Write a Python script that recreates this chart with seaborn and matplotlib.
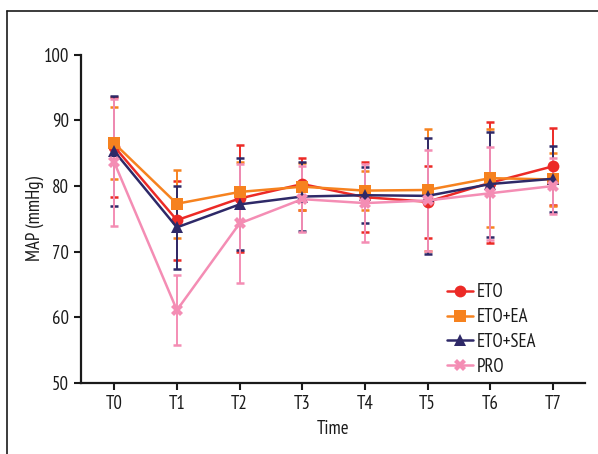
import matplotlib
matplotlib.use("Agg")
import matplotlib.pyplot as plt
import matplotlib.lines as mlines
import seaborn as sns
import numpy as np
import pandas as pd

times = ["T0", "T1", "T2", "T3", "T4", "T5", "T6", "T7"]
groups = ["ETO", "ETO+EA", "ETO+SEA", "PRO"]

eto_mean = [86.0, 74.8, 78.1, 80.3, 78.3, 77.6, 80.5, 83.0]
eto_sd = [7.6, 6.0, 8.2, 3.9, 5.3, 5.5, 9.2, 5.9]
ea_mean = [86.5, 77.3, 79.1, 79.9, 79.3, 79.4, 81.2, 81.0]
ea_sd = [5.5, 5.2, 4.5, 3.6, 3.0, 9.3, 7.5, 4.0]
sea_mean = [85.3, 73.7, 77.2, 78.4, 78.6, 78.5, 80.3, 81.1]
sea_sd = [8.4, 6.3, 7.0, 5.2, 4.3, 8.8, 8.0, 5.0]
pro_mean = [83.6, 61.1, 74.3, 78.0, 77.4, 77.8, 78.9, 80.0]
pro_sd = [9.7, 5.3, 9.0, 5.0, 5.9, 7.7, 7.1, 4.2]

means = [eto_mean, ea_mean, sea_mean, pro_mean]
sds = [eto_sd, ea_sd, sea_sd, pro_sd]
colors = ["#EC2A26", "#F6821F", "#2E2968", "#F48DB4"]
markers = ["o", "s", "^", "X"]

sns.set_theme(style="ticks")
plt.rcParams["font.family"] = ["PT Sans Narrow", "Fira Sans Condensed",
                               "Roboto Condensed", "Archivo Narrow",
                               "Open Sans Condensed", "DejaVu Sans"]

fig = plt.figure(figsize=(5.98, 4.54), dpi=100)
ax = fig.add_axes([0.1355, 0.1564, 0.8425, 0.7231])

pos = np.arange(len(times))
rows = []
for g, m in zip(groups, means):
    for p, v in zip(pos, m):
        rows.append({"pos": p, "MAP": v, "Group": g})
df = pd.DataFrame(rows)

for g, m, s, c in zip(groups, means, sds, colors):
    ax.errorbar(pos, m, yerr=s, fmt="none", ecolor=c, elinewidth=1.4,
                capsize=3, capthick=1.8, zorder=2)

sns.lineplot(data=df, x="pos", y="MAP", hue="Group", style="Group",
             palette=colors, markers=markers, dashes=False, hue_order=groups,
             style_order=groups, linewidth=1.8, markersize=8.5,
             markeredgewidth=0, ax=ax, zorder=3, legend=True)

ax.set_xlim(-0.53, 7.51)
ax.set_ylim(50, 100)
ax.set_xticks(pos)
ax.set_xticklabels(times)
ax.set_yticks([50, 60, 70, 80, 90, 100])
ax.set_xlabel("Time", fontsize=13.5, labelpad=5, color="#1a1a1a")
ax.set_ylabel("MAP (mmHg)", fontsize=13.5, labelpad=0, color="#1a1a1a")
ax.tick_params(axis="both", labelsize=13.5, width=1.5, length=5,
               color="#1a1a1a", labelcolor="#1a1a1a")
for side in ["top", "right"]:
    ax.spines[side].set_visible(False)
for side in ["left", "bottom"]:
    ax.spines[side].set_linewidth(1.6)
    ax.spines[side].set_color("#1a1a1a")

leg = ax.legend(loc="lower left", bbox_to_anchor=(0.705, -0.012), frameon=False,
                fontsize=13.5, handlelength=1.35, handletextpad=0.2,
                labelspacing=0.36, borderaxespad=0.2)
for t in leg.get_texts():
    t.set_color("#1a1a1a")

fig.add_artist(mlines.Line2D([0.0109, 0.0109], [0.0, 0.9747], color="#1a1a1a", lw=1.2))
fig.add_artist(mlines.Line2D([0.0109, 1.0], [0.9747, 0.9747], color="#1a1a1a", lw=1.2))

fig.savefig("out.png", dpi=100)
